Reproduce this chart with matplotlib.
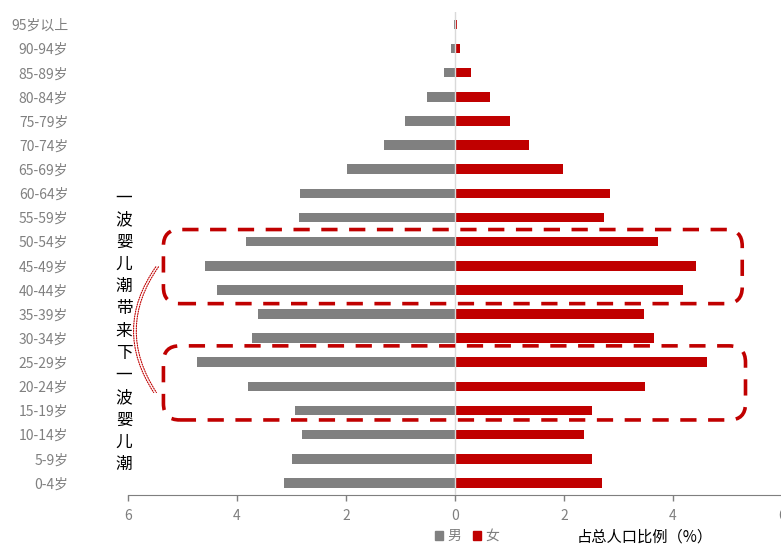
import matplotlib
matplotlib.use("Agg")
import matplotlib.pyplot as plt
from matplotlib.patches import FancyBboxPatch, FancyArrowPatch, Patch

plt.rcParams["font.family"] = ["Noto Sans CJK SC", "DejaVu Sans"]

age_groups = ["0-4岁", "5-9岁", "10-14岁", "15-19岁", "20-24岁", "25-29岁",
              "30-34岁", "35-39岁", "40-44岁", "45-49岁", "50-54岁", "55-59岁",
              "60-64岁", "65-69岁", "70-74岁", "75-79岁", "80-84岁", "85-89岁",
              "90-94岁", "95岁以上"]
male = [3.14, 3.00, 2.81, 2.94, 3.79, 4.73, 3.72, 3.61, 4.36, 4.58, 3.83, 2.86,
        2.84, 1.99, 1.30, 0.92, 0.52, 0.21, 0.07, 0.02]
female = [2.69, 2.52, 2.37, 2.52, 3.49, 4.62, 3.65, 3.46, 4.18, 4.42, 3.73, 2.73,
          2.84, 1.99, 1.35, 1.00, 0.65, 0.30, 0.10, 0.03]
xticks = [-6, -4, -2, 0, 2, 4, 6]
xtick_labels = ["6", "4", "2", "0", "2", "4", "6"]
note = "一波婴儿潮带来下一波婴儿潮"

grey = "#808080"
red = "#C00000"

fig = plt.figure(figsize=(7.81, 5.46), dpi=100)
ax = fig.add_axes([0.1639, 0.0934, 0.8374, 0.884])

y = list(range(len(age_groups)))
ax.barh(y, [-v for v in male], height=0.4, color=grey, zorder=2)
ax.barh(y, female, height=0.4, color=red, zorder=2)
ax.axvline(0, color="#d9d9d9", lw=1.0, zorder=3)

ax.set_xlim(-6, 6)
ax.set_ylim(-0.5, len(age_groups) - 0.5)
ax.set_xticks(xticks)
ax.set_xticklabels(xtick_labels)
ax.set_yticks(y)
ax.set_yticklabels(age_groups)
ax.tick_params(axis="y", length=0, pad=43, labelsize=10, labelcolor="#808080")
ax.tick_params(axis="x", length=4, width=1, color="#7f7f7f", pad=6,
               labelsize=10, labelcolor="#7f7f7f", direction="out")
for side in ["top", "right", "left"]:
    ax.spines[side].set_visible(False)
ax.spines["bottom"].set_color("#7f7f7f")

# dashed rounded frames around the two baby-boom cohorts
aspect = 54.6 / 24.1
for x0, x1, y0, y1 in [(-5.35, 5.27, 7.43, 10.5), (-5.35, 5.33, 2.61, 5.68)]:
    box = FancyBboxPatch((x0, y0), x1 - x0, y1 - y0,
                         boxstyle="round,pad=0,rounding_size=0.3",
                         mutation_aspect=aspect, fill=False, ec=red, lw=2.6,
                         ls=(0, (4.5, 3.2)), zorder=4, clip_on=False)
    ax.add_patch(box)

# dotted bracket linking the two frames
for dx in (0.0, 0.05):
    arc = FancyArrowPatch((-5.46 + dx, 9.05), (-5.5 + dx, 3.65),
                          connectionstyle="arc3,rad=0.35", arrowstyle="-",
                          color=red, lw=0.8, ls=(0, (1, 1.2)), zorder=4,
                          clip_on=False)
    ax.add_patch(arc)

# vertical annotation text
for i, ch in enumerate(note):
    fig.text(124 / 781, 1 - (198 + i * 22.2) / 546, ch, ha="center", va="center",
             fontsize=12, color="black")

handles = [Patch(color=grey, label="男"), Patch(color=red, label="女")]
fig.legend(handles=handles, loc="center", bbox_to_anchor=(467 / 781, 1 - 536 / 546),
           ncol=2, frameon=False, handlelength=0.6, handleheight=0.6,
           handletextpad=0.3, columnspacing=0.8, fontsize=10, labelcolor="#7f7f7f")
fig.text(645 / 781, 1 - 537 / 546, "占总人口比例（%）", ha="center", va="center",
         fontsize=11, color="black")

fig.savefig("out.png", dpi=100)
